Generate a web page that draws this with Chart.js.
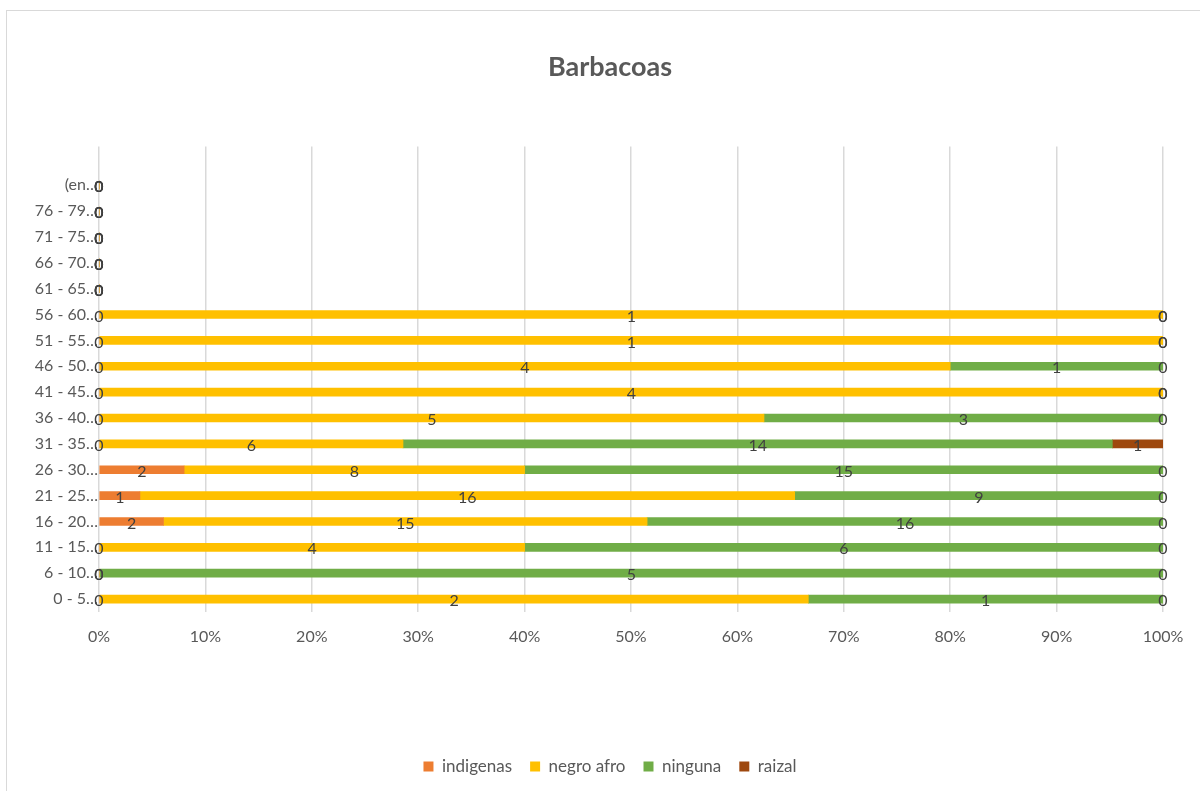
<!DOCTYPE html>
<html>
<head>
<meta charset="utf-8">
<script src="https://cdn.jsdelivr.net/npm/chart.js@4.4.1/dist/chart.umd.min.js"></script>
<style>
  html, body { margin: 0; padding: 0; background: #fff; overflow: hidden; }
  #marco {
    position: absolute; left: 6px; top: 10px; width: 1300px; height: 900px;
    border-left: 1px solid #d9d9d9; border-top: 1px solid #d9d9d9;
  }
  #wrap { position: absolute; left: 0; top: 0; width: 1200px; height: 791px; }
</style>
</head>
<body>
<div id="marco"></div>
<div id="wrap"><canvas id="grafico"></canvas></div>
<script>
// Rangos de edad (de abajo hacia arriba)
const categorias = ['0 - 5…', '6 - 10…', '11 - 15…', '16 - 20…', '21 - 25…', '26 - 30…',
  '31 - 35…', '36 - 40…', '41 - 45…', '46 - 50…', '51 - 55…', '56 - 60…',
  '61 - 65…', '66 - 70…', '71 - 75…', '76 - 79…', '(en…', ''];

// Conteos por grupo étnico
const indigenas = [0, 0, 0, 2, 1, 2, 0, 0, 0, 0, 0, 0, 0, 0, 0, 0, 0, null];
const negroAfro = [2, 0, 4, 15, 16, 8, 6, 5, 4, 4, 1, 1, 0, 0, 0, 0, 0, null];
const ninguna   = [1, 5, 6, 16, 9, 15, 14, 3, 0, 1, 0, 0, 0, 0, 0, 0, 0, null];
const raizal    = [0, 0, 0, 0, 0, 0, 1, 0, 0, 0, 0, 0, 0, 0, 0, 0, 0, null];

const marcasX = [0, 10, 20, 30, 40, 50, 60, 70, 80, 90, 100];

const FUENTE = 'Lato, "Open Sans", sans-serif';
const GRIS = '#595959';

// Totales por fila para el apilado al 100%
const series = [indigenas, negroAfro, ninguna, raizal];
const totales = categorias.map((_, i) => series.reduce((s, a) => s + (a[i] || 0), 0));
const porcentaje = arr => arr.map((v, i) => v === null ? null : (totales[i] ? v / totales[i] * 100 : 0));

// Etiquetas de valor en el centro de cada segmento
const etiquetas = {
  id: 'etiquetas',
  afterLayout(chart) {
    // título y leyenda centrados sobre todo el marco, no sobre el área sin eje
    chart.titleBlock.left += 57;
    chart.legend.left += 57;
  },
  afterDatasetsDraw(chart) {
    const ctx = chart.ctx;
    ctx.save();
    ctx.font = '16px ' + FUENTE;
    ctx.fillStyle = '#404040';
    ctx.textAlign = 'center';
    ctx.textBaseline = 'middle';
    chart.data.datasets.forEach((ds, i) => {
      chart.getDatasetMeta(i).data.forEach((bar, j) => {
        const v = ds.cuentas[j];
        if (v === null || v === undefined) return;
        const p = bar.getProps(['x', 'base', 'y'], true);
        ctx.fillText(String(v), (p.x + p.base) / 2, p.y + 2);
      });
    });
    ctx.restore();
  }
};

const ctx = document.getElementById('grafico').getContext('2d');

new Chart(ctx, {
  type: 'bar',
  data: {
    labels: categorias,
    datasets: [
      { label: 'indigenas', data: porcentaje(indigenas), cuentas: indigenas, backgroundColor: '#ED7D31' },
      { label: 'negro afro', data: porcentaje(negroAfro), cuentas: negroAfro, backgroundColor: '#FFC000' },
      { label: 'ninguna', data: porcentaje(ninguna), cuentas: ninguna, backgroundColor: '#70AD47' },
      { label: 'raizal', data: porcentaje(raizal), cuentas: raizal, backgroundColor: '#9E480E' }
    ]
  },
  plugins: [etiquetas],
  options: {
    indexAxis: 'y',
    responsive: true,
    maintainAspectRatio: false,
    animation: false,
    datasets: { bar: { barThickness: 8, borderWidth: 0 } },
    layout: { padding: { left: 0, right: 37, top: 0, bottom: 6 } },
    plugins: {
      title: {
        display: true,
        text: 'Barbacoas',
        color: GRIS,
        font: { family: FUENTE, size: 27, weight: 'bold' },
        padding: { top: 51, bottom: 63 }
      },
      legend: {
        position: 'bottom',
        labels: {
          boxWidth: 10, boxHeight: 10, padding: 18,
          color: GRIS,
          font: { family: FUENTE, size: 17 }
        }
      },
      tooltip: { enabled: false }
    },
    scales: {
      x: {
        stacked: true,
        min: 0, max: 100,
        afterBuildTicks: s => { s.ticks = marcasX.map(v => ({ value: v })); },
        ticks: {
          color: GRIS,
          font: { family: FUENTE, size: 16 },
          padding: 15,
          maxRotation: 0,
          callback: v => v + '%'
        },
        grid: { color: '#d9d9d9', lineWidth: 1.5, drawTicks: false },
        border: { display: false },
        afterFit: s => { s.height = 128; }
      },
      y: {
        stacked: true,
        reverse: true,
        grid: { display: false, drawTicks: false },
        border: { display: false },
        ticks: {
          color: GRIS,
          font: { family: FUENTE, size: 16 },
          padding: 1,
          autoSkip: false
        },
        afterFit: s => { s.width = 99; }
      }
    }
  }
});
</script>
</body>
</html>
